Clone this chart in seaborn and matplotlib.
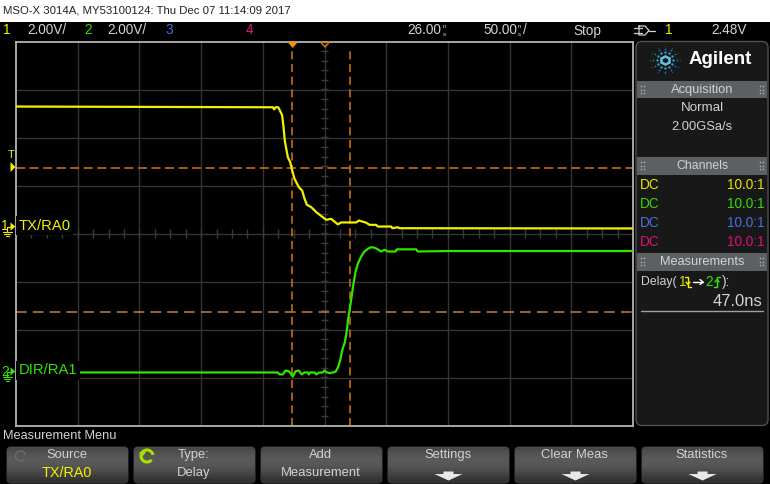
import numpy as np
import pandas as pd
import seaborn as sns
import matplotlib.pyplot as plt
from matplotlib.patches import FancyBboxPatch, Polygon, Rectangle, Arc

# =========================
# Data
# =========================
ch1_time_ns = [-224, -15.9, -14.8, -13.7, -11.5, -9.9, -8.3, -7.2, -6.2, -5.0, -3.7, -1.8, -0.2, 1.7, 5.2, 7.9,
               9.8, 11.7, 15.2, 19.3, 24.6, 27.4, 31.4, 36.8, 39.5, 51.7, 53.8, 59.8, 62.5, 67.9, 69.2, 80.1,
               80.9, 85.4, 86.8, 276]
ch1_volts = [5.04, 5.01, 4.92, 5.01, 5.01, 4.85, 4.67, 4.18, 3.63, 3.28, 2.93, 2.72, 2.38, 2.03, 1.68, 1.54,
             1.20, 0.95, 0.85, 0.64, 0.43, 0.32, 0.36, 0.13, 0.21, 0.21, 0.29, 0.20, 0.11, 0.11, 0.04, 0.04,
             -0.03, 0.01, -0.03, -0.04]

ch2_time_ns = [-224, -18.6, -11.8, -10.5, -7.8, -5.6, -2.9, -1.3, 0.3, 2.5, 5.2, 7.4, 9.8, 12.5, 13.3, 14.4,
               17.9, 19.3, 21.4, 24.6, 26, 27.9, 30.6, 32.7, 34.9, 36.8, 38.7, 40.3, 42.5, 44.1, 45.2, 46.3,
               47.9, 49.5, 51.1, 53, 55.7, 58.4, 61.1, 63.8, 66.5, 69.2, 71.9, 74.6, 77.3, 83.5, 84.6, 100.3,
               101.6, 127, 276]
ch2_volts = [0, 0, 0, -0.08, -0.08, 0.08, 0.05, -0.05, -0.17, 0.05, 0.08, -0.08, 0, 0, -0.08, 0,
             0, -0.08, -0.01, 0, 0.08, 0, -0.03, 0, 0.03, 0.2, 0.5, 0.92, 1.26, 1.75, 2.24, 2.58,
             3.14, 3.7, 4.18, 4.53, 4.83, 5.04, 5.15, 5.22, 5.2, 5.13, 5.04, 5.11, 5.04, 5.04, 5.13, 5.13,
             5.04, 5.06, 5.06]

ch1_offset = 0.25
ch2_offset = -5.79
trigger_level = 2.48
cursor_times = [0, 47]
cursor_level = -3.25

channel_rows = [("DC", "10.0:1", "#e6e600"), ("DC", "10.0:1", "#33dd00"),
                ("DC", "10.0:1", "#4a6fe0"), ("DC", "10.0:1", "#e0107a")]
button_tops = ["Source", "Type:", "Add", "Settings", "Clear Meas", "Statistics"]
button_bottoms = ["TX/RA0", "Delay", "Measurement", "", "", ""]

YELLOW = "#f2f200"
GREEN = "#2ee600"
ORANGE = "#b8640f"
TEXT = "#d2d2d2"

sns.set_theme(style="dark")
plt.rcParams['font.family'] = ['Liberation Sans', 'DejaVu Sans']

fig = plt.figure(figsize=(7.7, 4.84), dpi=100, facecolor="black")

# =========================
# Scope graticule and traces
# =========================
ax = fig.add_axes([16 / 770, (484 - 425.5) / 484, 617 / 770, 384 / 484], facecolor="black", zorder=1)
ax.set_xlim(-224, 276)
ax.set_ylim(-8, 8)
ax.set_xticks([])
ax.set_yticks([])
for s in ax.spines.values():
    s.set_color("#b4b4b4")
    s.set_linewidth(1.3)

for t in np.arange(-174, 276, 50):
    ax.axvline(t, color="#343434", lw=1, zorder=1)
for v in np.arange(-6, 8, 2):
    ax.axhline(v, color="#343434", lw=1, zorder=1)

# center cross with minor ticks
ax.vlines(np.arange(-224, 276, 12.5), -0.2, 0.2, color="#3a3a3a", lw=1, zorder=1)
ax.hlines(np.arange(-8, 8, 0.4), 26 - 2.6, 26 + 2.6, color="#3a3a3a", lw=1, zorder=1)

ax.axhline(trigger_level + ch1_offset, color=ORANGE, lw=1.3, ls=(0, (5, 2.5)), zorder=2)
ax.axhline(cursor_level, color="#c8803a", lw=1.1, ls=(0, (7, 4)), zorder=2)
for t in cursor_times:
    ax.vlines(t, -8, 7.6, color=ORANGE, lw=1.3, ls=(0, (4.5, 2.5)), zorder=2)

df1 = pd.DataFrame({"t": ch1_time_ns, "v": np.array(ch1_volts) + ch1_offset})
df2 = pd.DataFrame({"t": ch2_time_ns, "v": np.array(ch2_volts) + ch2_offset})
sns.lineplot(data=df1, x="t", y="v", ax=ax, color=YELLOW, lw=1.6, estimator=None, sort=False, zorder=3)
sns.lineplot(data=df2, x="t", y="v", ax=ax, color=GREEN, lw=1.6, estimator=None, sort=False, zorder=3)
ax.set_xlabel("")
ax.set_ylabel("")

# =========================
# Instrument frame, in screen pixels
# =========================
ui = fig.add_axes([0, 0, 1, 1], zorder=2)
ui.patch.set_alpha(0)
ui.axis("off")


def label(x, y, s, color=TEXT, size=9.4, ha="left", **kw):
    return ui.text(x, y, s, color=color, fontsize=size, ha=ha, va="center", **kw)


ui.add_patch(Rectangle((0, 0), 770, 22, color="white", lw=0))
label(3, 10.5, "MSO-X 3014A, MY53100124: Thu Dec 07 11:14:09 2017", color="#222222", size=8.2)

# header line
label(7, 30.5, "1", YELLOW, ha="center", size=9.8)
label(27, 30.5, "2.00V/", size=9.8)
label(88, 30.5, "2", GREEN, ha="center", size=9.8)
label(107, 30.5, "2.00V/", size=9.8)
label(169, 30.5, "3", "#4a6fe0", ha="center", size=9.8)
label(250, 30.5, "4", "#e0107a", ha="center", size=9.8)
label(407, 30.5, "26.00", size=9.8)
label(442.5, 26.5, "n", size=4.5)
label(442.5, 34, "s", size=4.5)
label(483, 30.5, "50.00", size=9.8)
label(518, 26.5, "n", size=4.5)
label(518, 34, "s", size=4.5)
label(523, 30.5, "/", size=9.8)
label(573, 30.5, "Stop", size=9.8)
label(669, 30.5, "1", YELLOW, ha="center", size=9.8)
label(711, 30.5, "2.48V", size=9.8)

# trigger gate symbol
ui.plot([634, 642], [28, 28], color=TEXT, lw=0.9)
ui.plot([634, 642], [33, 33], color=TEXT, lw=0.9)
ui.plot([639, 645, 649, 645, 639, 639], [26, 26, 30.5, 35, 35, 26], color=TEXT, lw=0.9)
ui.plot([649, 655], [30.5, 30.5], color=TEXT, lw=0.9)

# trigger and delay markers on the top edge
ui.add_patch(Polygon([[287.5, 42], [298, 42], [292.7, 48]], color="#f09010", lw=0))
ui.plot([320.5, 329.5, 325, 320.5], [42, 42, 47, 42], color="#d08020", lw=1)

# channel and trigger markers on the left edge
label(11, 155.5, "T", YELLOW, size=8, ha="center")
ui.add_patch(Polygon([[10.5, 162], [15.5, 167], [10.5, 172]], color=YELLOW, lw=0))
for y, n, col, name in [(226.5, "1", YELLOW, "TX/RA0"), (371.5, "2", GREEN, "DIR/RA1")]:
    label(1, y, n, col, size=10)
    ui.add_patch(Polygon([[10.5, y - 4], [15.5, y], [10.5, y + 4]], color=col, lw=0))
    ui.plot([7, 7, 10.5], [y + 5, y, y], color=col, lw=0.8)
    for w, dy in [(4.5, 5), (3, 7), (1.5, 9)]:
        ui.plot([7 - w, 7 + w], [y + dy, y + dy], color=col, lw=0.8)
    label(18.5, y - 1, name, col, size=10.6,
          bbox=dict(facecolor="black", edgecolor="none", pad=2))

# =========================
# Right hand panel
# =========================
ui.add_patch(FancyBboxPatch((636, 41.5), 132, 384, boxstyle="round,pad=0,rounding_size=6",
                            fc="#181818", ec="#505050", lw=1))
for top, bottom, name, size in [(81, 98, "Acquisition", 9.3), (157, 175, "Channels", 8.8),
                                (253, 271, "Measurements", 9.2)]:
    ui.add_patch(Rectangle((637, top), 130, bottom - top, color="#5c6062", lw=0))
    label(702, (top + bottom) / 2, name, ha="center", size=size)
    for gx in [641, 760]:
        ui.scatter([gx, gx + 3] * 3, np.repeat([top + 5, top + 8.5, top + 12], 2), s=1.5, color="#a8a8a8", lw=0)

# logo
angles = np.deg2rad(np.arange(0, 360, 30))
for r, s, col in [(4, 4, "#5fcdeb"), (8, 3, "#2f9fd0"), (11.5, 1.5, "#26809f"), (14, 0.8, "#1c5f80")]:
    ui.scatter(665 + r * np.cos(angles) * 1.05, 60 + r * np.sin(angles), s=s, color=col, lw=0)
label(689, 60, "Agilent", "white", size=13.5, fontweight="bold")

label(702, 108, "Normal", ha="center", size=9.6)
label(702, 127, "2.00GSa/s", ha="center", size=9.3)
for (c, r, col), y in zip(channel_rows, [185, 204, 223, 242]):
    label(640, y, c, col, size=9.8)
    label(764, y, r, col, ha="right", size=9.8)

label(641.5, 282, "Delay(", size=8.8)
label(678.5, 282, "1", "#d8d800", size=9.8)
ui.plot([685, 688, 688, 691], [277, 277, 287, 287], color=YELLOW, lw=1)
ui.plot([686, 688, 690], [282, 284.5, 282], color=YELLOW, lw=1)
ui.plot([693, 703], [282, 282], color="white", lw=1)
ui.plot([700, 703, 700], [279.5, 282, 284.5], color="white", lw=1)
label(705, 282, "2", GREEN, size=9.8)
ui.plot([714, 717, 717, 720], [287, 287, 277, 277], color=GREEN, lw=1)
ui.plot([715, 717, 719], [282, 279.5, 282], color=GREEN, lw=1)
label(722, 282, "):", size=9.8)
label(762, 301, "47.0ns", ha="right", size=12)
ui.plot([641, 763], [310.5, 310.5], color="#a0a0a0", lw=1)

# =========================
# Softkey menu
# =========================
label(3, 436, "Measurement Menu", size=9.2)
gradient = np.array([[0.29], [0.33], [0.35], [0.34], [0.30], [0.25], [0.20]])
lefts = [7, 134, 261, 388, 515, 642]
for x0, top, bottom in zip(lefts, button_tops, button_bottoms):
    box = FancyBboxPatch((x0, 447), 121, 36, boxstyle="round,pad=0,rounding_size=4",
                         fc="none", ec="#3a3d3f", lw=0.8)
    ui.add_patch(box)
    im = ui.imshow(gradient, extent=(x0, x0 + 121, 483, 447), cmap="gray", vmin=0, vmax=1,
                   aspect="auto", interpolation="bilinear", zorder=1)
    im.set_clip_path(box)
    cx = x0 + 60.5
    label(cx - 1, 455, top, ha="center", zorder=3, size=9.4)
    if bottom:
        col = YELLOW if top == "Source" else TEXT
        label(cx - 1, 473, bottom, col, ha="center", zorder=3,
              size=10.4 if top == "Source" else 9.4)
    else:
        ui.add_patch(Polygon([[cx - 5, 471.5], [cx + 5, 471.5], [cx + 5, 474], [cx + 14, 474], [cx, 480.5],
                              [cx - 14, 474], [cx - 5, 474]], color="#e8e8e8", lw=0, zorder=3))

# entry knob icons
ui.add_patch(Arc((147, 456), 12, 12, theta1=40, theta2=350, color="#a8e000", lw=2.2, zorder=3))
ui.add_patch(Polygon([[139, 452], [146, 452], [142, 457]], color="#a8e000", lw=0, zorder=3))
ui.add_patch(Arc((20.5, 456), 10, 10, theta1=40, theta2=350, color="#6a6e70", lw=1, zorder=3))

ui.set_xlim(0, 770)
ui.set_ylim(484, 0)

fig.savefig("out.png", dpi=100, facecolor="black")
